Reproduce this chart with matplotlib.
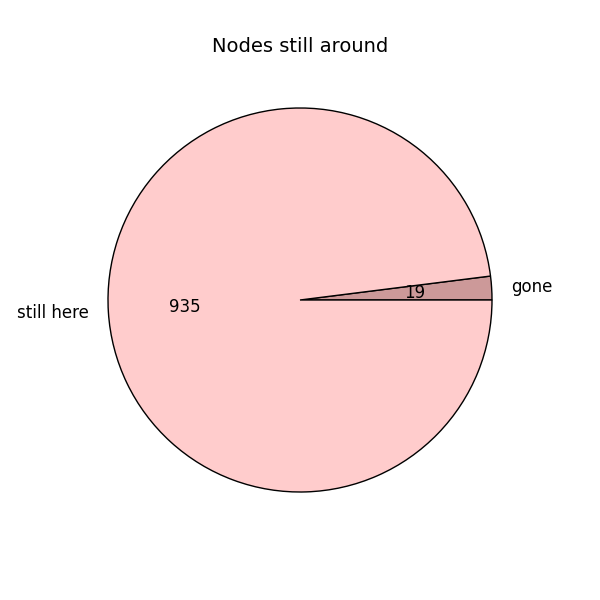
import matplotlib
matplotlib.use("Agg")
import matplotlib.pyplot as plt

# === data ===
labels = ["gone", "still here"]
counts = [19, 935]
colors = ["#cc9999", "#ffcccc"]
total = sum(counts)

fig = plt.figure(figsize=(6, 6), dpi=100)
ax = fig.add_axes([0.1, 0.1, 0.8, 0.8])
ax.pie(counts, labels=labels, colors=colors,
       autopct=lambda p: "{:.0f}".format(p * total / 100),
       wedgeprops={"edgecolor": "black", "linewidth": 1},
       textprops={"fontsize": 12})
ax.set_xlim(-1.25, 1.25)
ax.set_ylim(-1.25, 1.25)
ax.set_title("Nodes still around", fontsize=14)
fig.savefig("out.png")
